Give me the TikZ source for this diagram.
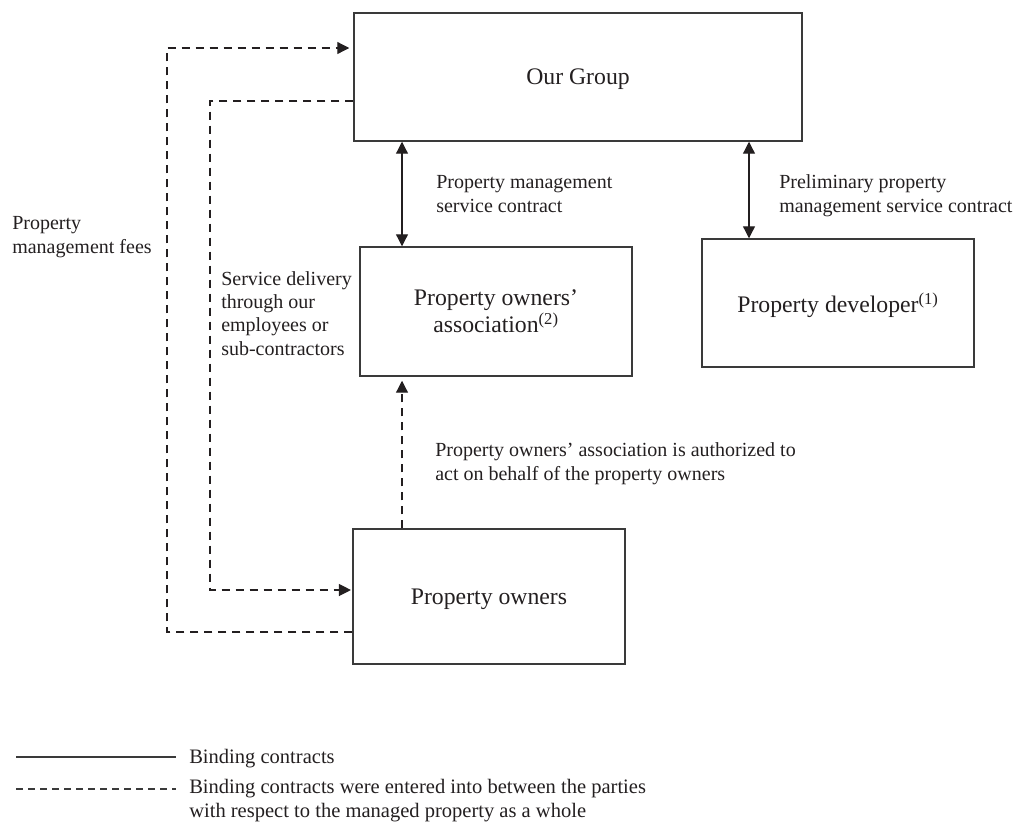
\documentclass[tikz,border=0pt]{standalone}
\usepackage{fontspec}
\setmainfont{Liberation Serif}
\usetikzlibrary{arrows.meta}
\definecolor{ink}{HTML}{231F20}
\definecolor{frame}{HTML}{3A3A3A}

\begin{document}
\begin{tikzpicture}[x=0.75pt, y=-0.75pt,
  entity/.style={draw=frame, line width=1.1pt, inner sep=0pt, text=ink, align=center,
                 font=\fontsize{17.8}{20.25}\selectfont},
  flat/.style={text depth=0pt},
  caption/.style={inner sep=0pt, anchor=base west, align=left, text=ink,
                  font=\fontsize{15}{17.5}\selectfont},
  keytext/.style={caption, font=\fontsize{15.4}{18}\selectfont},
  link/.style={draw=ink, line width=0.9pt},
  tip/.style={-{Triangle[length=9pt,width=9pt]}},
  bothtips/.style={{Triangle[length=9pt,width=9pt]}-{Triangle[length=9pt,width=9pt]}},
  dashline/.style={dash pattern=on 6.5pt off 4pt},
]
\useasboundingbox (0,0) rectangle (1013,822);

% the parties
\node[entity, flat, minimum width=336pt, minimum height=96pt] (group) at (578,77) {Our Group};
\node[entity, minimum width=204pt, minimum height=96.75pt] (assoc) at (496,311.5)
  {Property owners'\\association\textsuperscript{(2)}};
\node[entity, flat, minimum width=204pt, minimum height=96pt] (dev) at (838,303)
  {Property developer\textsuperscript{(1)}};
\node[entity, flat, minimum width=204pt, minimum height=101.25pt] (owners) at (489,596.5)
  {Property owners};

% routing helpers
\coordinate (colA) at (402,0);
\coordinate (colB) at (749,0);
\coordinate (outer) at (167,48);
\coordinate (inner) at (210,101);
\coordinate (feeRow) at (0,632);
\coordinate (svcRow) at (0,590);

% binding contracts
\draw[link, bothtips] (group.south -| colA) -- (assoc.north -| colA);
\draw[link, bothtips] (group.south -| colB) -- (dev.north -| colB);

% authorisation, fees and service delivery
\draw[link, dashline, tip, shorten >=3pt] (owners.north -| colA) -- (assoc.south -| colA);
\draw[link, dashline, tip, shorten >=3pt]
  (owners.west |- feeRow) -| (outer) -- (group.west |- outer);
\draw[link, dashline, tip, shorten >=1pt]
  (group.west |- inner) -- (inner) |- (owners.west |- svcRow);

% connector captions (anchored on the baseline of their last line)
\node[caption] (capA) at (436,212) {Property management\\service contract};
\node[caption] (capB) at (779,212) {Preliminary property\\management service contract};
\node[caption] (capFee) at (12,253) {Property\\management fees};
\node[caption] (capSvc) at (221,355) {Service delivery\\through our\\employees or\\sub-contractors};
\node[caption] (capAuth) at (435,480)
  {Property owners' association is authorized to\\act on behalf of the property owners};

% key
\coordinate (keyA1) at (16,757);
\coordinate (keyA2) at (176,757);
\coordinate (keyB1) at (16,789);
\coordinate (keyB2) at (176,789);
\draw[draw=frame, line width=0.8pt] (keyA1) -- (keyA2);
\draw[draw=frame, line width=0.8pt, dash pattern=on 5pt off 4pt] (keyB1) -- (keyB2);
\node[keytext] (keyTextA) at (189,763) {Binding contracts};
\node[keytext] (keyTextB) at (189,817)
  {Binding contracts were entered into between the parties\\with respect to the managed property as a whole};
\end{tikzpicture}
\end{document}
